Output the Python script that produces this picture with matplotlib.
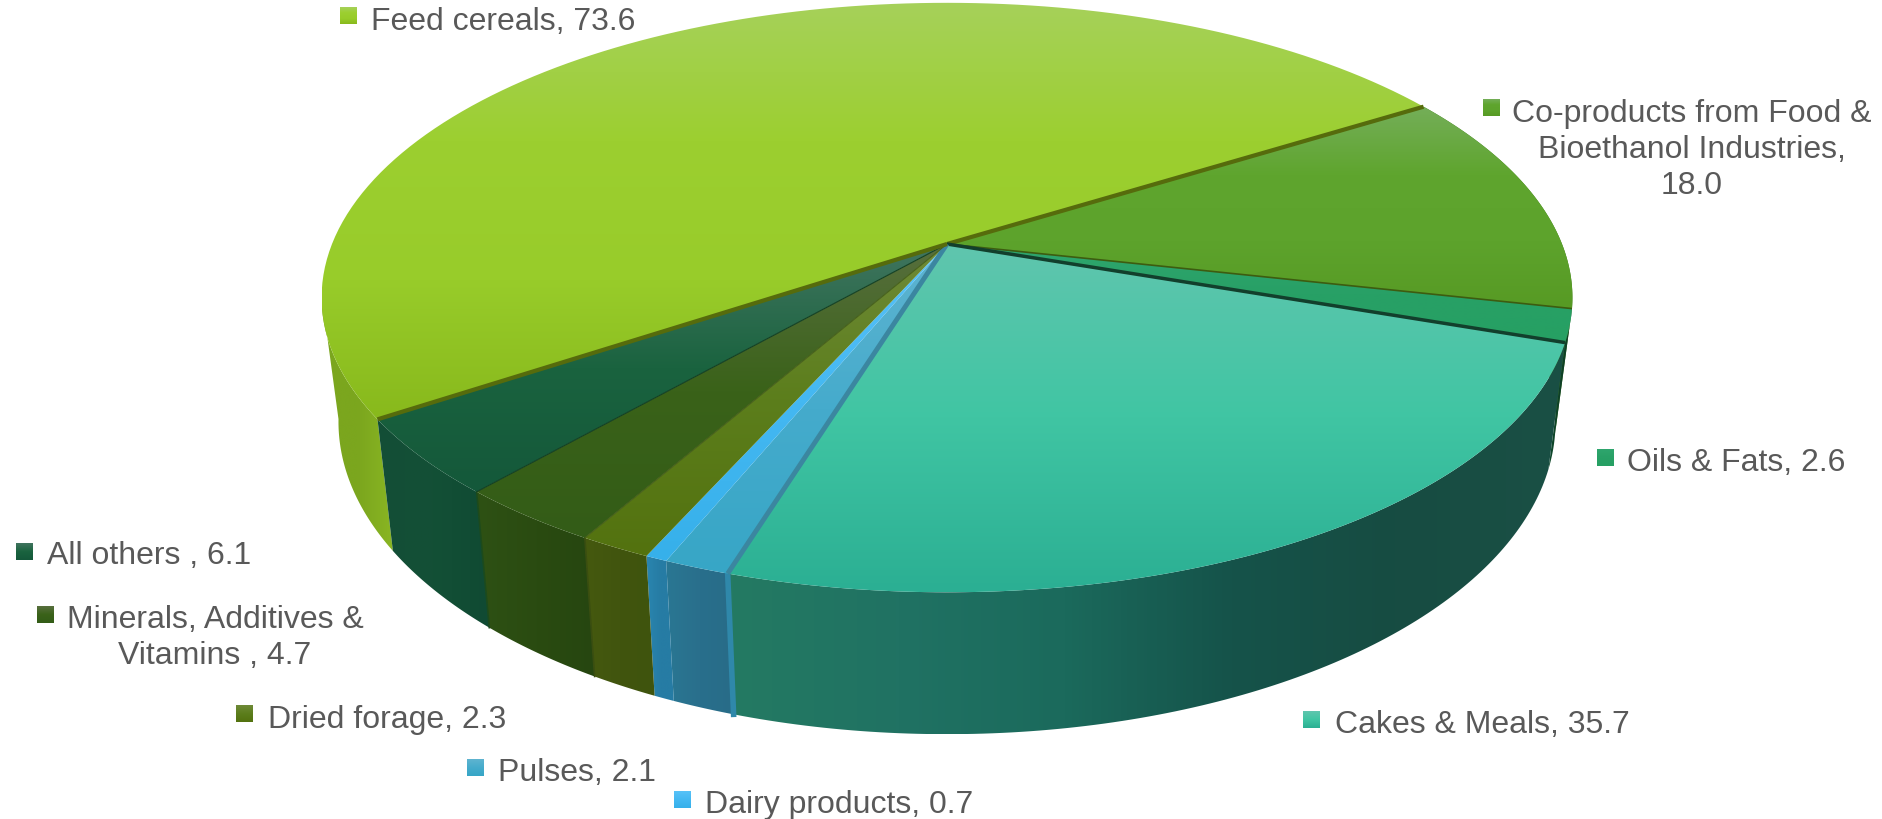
import numpy as np
import matplotlib
matplotlib.use('Agg')
import matplotlib.pyplot as plt
from matplotlib.colors import LinearSegmentedColormap
from matplotlib.patches import Polygon

plt.rcParams['font.family'] = ['Liberation Sans', 'DejaVu Sans']

# Datos (orden de las rebanadas, en sentido horario)
categories = ['Feed cereals', 'Co-products from Food &\nBioethanol Industries,\n', 'Oils & Fats',
              'Cakes & Meals', 'Pulses', 'Dairy products', 'Dried forage',
              'Minerals, Additives &\nVitamins ', 'All others ']
values = [73.6, 18.0, 2.6, 35.7, 2.1, 0.7, 2.3, 4.7, 6.1]
value_labels = ['73.6', '18.0', '2.6', '35.7', '2.1', '0.7', '2.3', '4.7', '6.1']

# Colores: cara superior (de arriba a abajo) y costado (de izquierda a derecha)
top_colors = [['#a6d15a', '#9ccf30', '#98cc2a', '#88b91c'],
              ['#74ae58', '#5fa52e', '#5da32c', '#579a24'],
              ['#2fa66e', '#28a066', '#26a063'],
              ['#60c6ae', '#40c5a3', '#2baf93'],
              ['#5fb4d0', '#45abcc', '#37a6c6'],
              ['#58c2f8', '#44b8f2', '#36b0ea'],
              ['#6f8a38', '#5c7e1c', '#53720f'],
              ['#586f3e', '#3a6219', '#335c17'],
              ['#41755f', '#1a633f', '#14583a']]
side_colors = [['#8ab623', '#7ba61e', '#7ba61e'],
               ['#3f7a1c', '#3f7a1c', '#3f7a1c'],
               ['#0f4a2c', '#0f4027', '#0f4027'],
               ['#247a62', '#207263', '#1b6a5c', '#15534a', '#174c42', '#1a5045'],
               ['#2a7793', '#296f8c', '#286c88'],
               ['#2a86b0', '#267ca4', '#267ca4'],
               ['#45590f', '#41550e', '#3f540d'],
               ['#2e5114', '#2a4b11', '#264610'],
               ['#144e36', '#135036', '#104a33']]
# Linea radial al final de cada rebanada
edge_colors = ['#566b0c', '#3d5c10', '#123f2c', '#3b86a0', None, None, '#46601a', '#123f22', '#566b0c']
line_w = [3.0, 1.2, 2.5, 3.5, 0, 0, 0.8, 0.8, 3.0]
# Linea vertical al inicio de cada costado
side_edges = [None, None, None, None, '#2f88aa', None, None, '#3a4e10', '#1c4a1c']
side_w = [0, 0, 0, 0, 4.0, 0, 0, 1.2, 1.2]

# Posicion de las etiquetas (cuadro x, cuadro y, texto x, texto y, alineacion)
label_pos = [(340, 8, 371, 22, 'left'), (1483, 100, 1692, 150, 'center'), (1597, 450, 1627, 463, 'left'),
             (1303, 712, 1335, 725, 'left'), (467, 760, 498, 773, 'left'), (674, 792, 705, 805, 'left'),
             (236, 706, 268, 720, 'left'), (37, 607, 215, 638, 'center'), (16, 544, 47, 556, 'left')]

W, H = 1883, 820
cx, cy = 947, 245
sx, sy, k = 615, 285, 0.1817
start_angle = 213.6
left_tangent = 190


def rim(a, b, n=120):
    # Punto del borde de la cara superior con perspectiva
    t = np.radians(np.linspace(a, b, n))
    w = 1 + k*np.sin(t)
    return np.column_stack((cx + sx*np.cos(t)/w, cy - sy*np.sin(t)/w))


def base(p):
    # Mismo borde pero en la base del disco
    q = p.copy()
    q[:, 0] = cx + 0.973*(p[:, 0] - cx)
    q[:, 1] = cy + 121 + 1.06*(p[:, 1] - cy)
    return q


def fill(ax, pts, colors, vertical, z):
    cmap = LinearSegmentedColormap.from_list('c', colors)
    g = np.linspace(0, 1, 256)
    g = g[:, None] if vertical else g[None, :]
    x0, y0 = pts.min(axis=0)
    x1, y1 = pts.max(axis=0)
    im = ax.imshow(g, cmap=cmap, extent=(x0, x1, y1, y0), origin='upper',
                   aspect='auto', zorder=z, interpolation='bilinear')
    clip = Polygon(pts, closed=True, transform=ax.transData, fc='none', ec='none')
    ax.add_patch(clip)
    im.set_clip_path(clip)


fig = plt.figure(figsize=(W/100, H/100), dpi=100)
ax = fig.add_axes([0, 0, 1, 1])

spans = np.array(values)/sum(values)*360
ends = start_angle - np.cumsum(spans)
starts = ends + spans

# Costados: primero los de atras
for i in [1, 2, 0, 3, 8, 7, 6, 4, 5]:
    # de feed cereals solo se ve el tramo izquierdo
    arc = rim(starts[i], left_tangent) if i == 0 else rim(starts[i], ends[i])
    low = base(arc)
    pts = np.vstack((arc, low[::-1]))
    fill(ax, pts, side_colors[i] if i else side_colors[i][::-1], False, 2 + i*0.01)
    if side_edges[i]:
        ax.plot([arc[0, 0], low[0, 0]], [arc[0, 1], low[0, 1]], color=side_edges[i], lw=side_w[i], zorder=2.5)

# Caras superiores
for i in range(len(values)):
    arc = rim(starts[i], ends[i])
    pts = np.vstack(([[cx, cy]], arc))
    fill(ax, pts, top_colors[i], True, 3)

# Lineas entre rebanadas
for i in range(len(values)):
    if edge_colors[i]:
        p = rim(ends[i], ends[i], 1)[0]
        ax.plot([cx, p[0]], [cy, p[1]], color=edge_colors[i], lw=line_w[i], zorder=4, solid_capstyle='butt')

# Etiquetas
for i, (mx, my, tx, ty, ha) in enumerate(label_pos):
    fill(ax, np.array([[mx, my], [mx+17, my], [mx+17, my+17], [mx, my+17]]), top_colors[i], True, 5)
    ax.text(tx, ty, categories[i] + (', ' if not categories[i].endswith('\n') else '') + value_labels[i],
            fontsize=23, color='#595959', ha=ha, va='center', ma='center', linespacing=1.26, zorder=6)

ax.set_xlim(0, W)
ax.set_ylim(H, 0)
ax.axis('off')
fig.savefig('out.png', dpi=100)
